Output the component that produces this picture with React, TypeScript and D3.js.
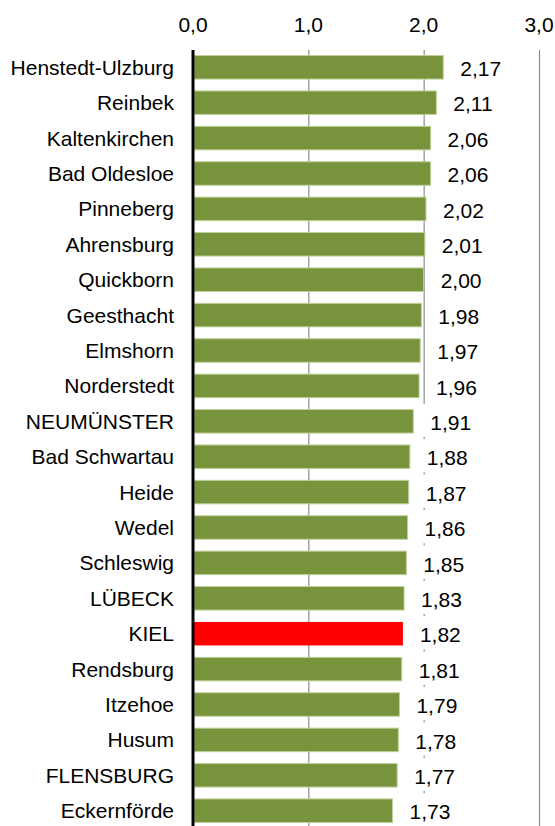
import React from "react";
import * as d3 from "d3";

const categories = [
  "Henstedt-Ulzburg", "Reinbek", "Kaltenkirchen", "Bad Oldesloe", "Pinneberg",
  "Ahrensburg", "Quickborn", "Geesthacht", "Elmshorn", "Norderstedt",
  "NEUMÜNSTER", "Bad Schwartau", "Heide", "Wedel", "Schleswig", "LÜBECK",
  "KIEL", "Rendsburg", "Itzehoe", "Husum", "FLENSBURG", "Eckernförde",
];
const values = [
  2.17, 2.11, 2.06, 2.06, 2.02, 2.01, 2.0, 1.98, 1.97, 1.96, 1.91, 1.88,
  1.87, 1.86, 1.85, 1.83, 1.82, 1.81, 1.79, 1.78, 1.77, 1.73,
];
const highlight = ["KIEL"];
const ticks = [0, 1, 2, 3];

const W = 555;
const H = 826;
const FONT = "'Liberation Sans', Arial, sans-serif";
const fmt = (v: number, d: number) => v.toFixed(d).replace(".", ",");

export default function App() {
  const x = d3.scaleLinear().domain([0, 3]).range([193, 539]);
  const top = 49.6;
  const step = 35.4;
  const y = d3
    .scaleBand<string>()
    .domain(categories)
    .range([top, top + step * categories.length])
    .paddingInner(0.336)
    .paddingOuter(0.168);
  const bw = y.bandwidth();
  const data = categories.map((c, i) => ({ c, v: values[i] }));

  return (
    <svg
      width={W}
      height={H}
      style={{ position: "absolute", left: 0, top: 0, background: "#fff" }}
      fontFamily={FONT}
    >
      <rect x={0} y={0} width={W} height={H} fill="#fff" />
      {ticks.slice(1).map((t) => (
        <line
          key={"g" + t}
          x1={x(t) + 0.5}
          x2={x(t) + 0.5}
          y1={50}
          y2={H}
          stroke="#8c8c8c"
          strokeWidth={1.2}
        />
      ))}
      {ticks.map((t) => (
        <text key={"t" + t} x={x(t)} y={32} textAnchor="middle" fontSize={21} fill="#000">
          {fmt(t, 1)}
        </text>
      ))}
      {data.map((d) => {
        const isHi = highlight.includes(d.c);
        const y0 = y(d.c)!;
        return (
          <rect
            key={"b" + d.c}
            x={x(0) + 1}
            y={y0}
            width={x(d.v) - x(0) - 1}
            height={bw}
            fill={isHi ? "#FF0000" : "#77933C"}
            stroke={isHi ? "none" : "#BFD196"}
            strokeWidth={1}
          />
        );
      })}
      {data.map((d) => {
        const cy = y(d.c)! + bw / 2;
        const tx = x(d.v) + 17;
        return (
          <g key={"l" + d.c}>
            <rect x={tx - 10} y={cy - 17.5} width={62} height={33.2} fill="#fff" />
            <text x={tx} y={cy + 8.6} fontSize={21} fill="#000">
              {fmt(d.v, 2)}
            </text>
          </g>
        );
      })}
      {data.map((d) => {
        const cy = y(d.c)! + bw / 2;
        return (
          <text key={"c" + d.c} x={174} y={cy + 7.5} textAnchor="end" fontSize={21} fill="#000">
            {d.c}
          </text>
        );
      })}
      <line x1={x(0)} x2={x(0)} y1={50} y2={H} stroke="#000" strokeWidth={3} />
    </svg>
  );
}
